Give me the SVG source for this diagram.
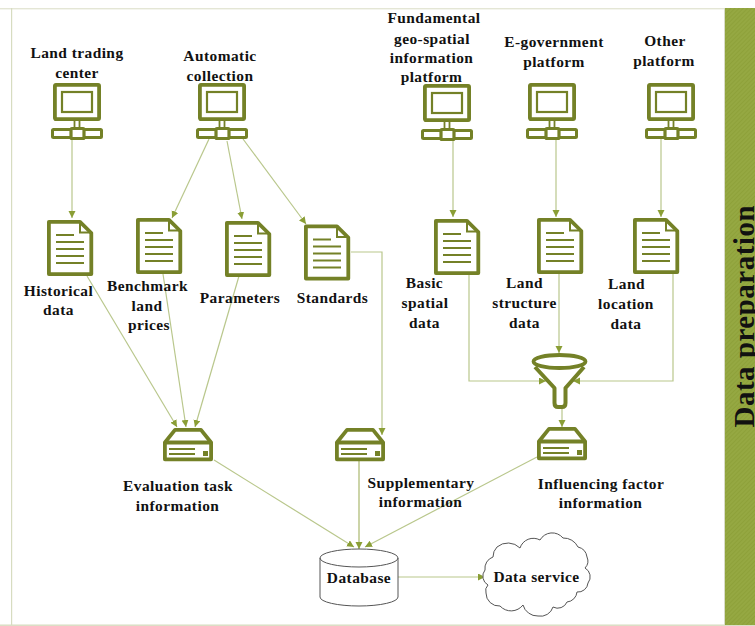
<svg xmlns="http://www.w3.org/2000/svg" width="755" height="626" viewBox="0 0 755 626">
<style>
text{font-family:"Liberation Serif","Times New Roman",serif;font-weight:bold;font-size:15.4px;fill:#111;text-anchor:middle;letter-spacing:.45px}
.ic{fill:none;stroke:#748127;stroke-width:3.8;stroke-linejoin:round}
.thin{fill:none;stroke:#748127;stroke-width:1.8}
.c{fill:none;stroke:#b9c78c;stroke-width:1.2;marker-end:url(#a)}
.o{fill:#fff;stroke:#555;stroke-width:1}
</style>
<defs>
<marker id="a" markerUnits="userSpaceOnUse" markerWidth="8" markerHeight="8" refX="7" refY="3.5" orient="auto"><path d="M0 0L7 3.500L0 7Z" fill="#8a9e35"/></marker>
<pattern id="h" width="3" height="3" patternUnits="userSpaceOnUse" patternTransform="rotate(45)"><rect width="3" height="3" fill="#95a842"/><rect width="1" height="3" fill="#8ea13a"/></pattern>
<g id="pc"><rect x="1.900" y="1.900" width="44.200" height="34.200" rx="1" class="ic"/><rect x="9" y="9" width="30" height="20" class="thin" style="stroke-width:2.200"/><path d="M21.500 37V45M26.500 37V45" class="thin"/><rect x="-.5" y="46.500" width="49" height="8" rx="1" class="ic" style="stroke-width:3"/><rect x="18" y="45.500" width="13" height="10" rx="1" class="ic" style="fill:#fff;stroke-width:3.200"/></g>
<g id="doc"><path d="M1.900 1.900H33L44.300 13V54.100H1.900Z" class="ic"/><path d="M33 1.900V12.500H44.300" class="thin" style="stroke-width:2"/><path d="M9 15H27M9 22H37M9 29H37M9 36H37M9 43H37" class="thin"/></g>
<g id="srv"><path d="M1.900 14.500L12 1.900H38L48.100 14.500V31.300H1.900Z" class="ic"/><path d="M1.900 14.500H48.100" class="ic"/><path d="M6 21H32M6 26H32" class="thin"/><rect x="40" y="23" width="5" height="5" fill="#748127"/></g>
</defs>
<rect x="0" y="8" width="755" height="1.400" fill="#e4e6d5"/>
<rect x="0" y="624.500" width="755" height="1.400" fill="#d7dcc0"/>
<rect x="11" y="8" width="1.200" height="617" fill="#d7dcc0"/>
<rect x="725" y="8" width="30" height="617" fill="url(#h)"/>
<rect x="724" y="8" width="1" height="617" fill="#d9dcc8"/>
<text transform="translate(754 427.500) rotate(-90)" style="font-size:28.800px;letter-spacing:.6px;text-anchor:start">Data preparation</text>

<g id="connectors">
<path class="c" d="M72 139V218"/>
<path class="c" d="M209 139L172 218"/>
<path class="c" d="M227 141L242 219"/>
<path class="c" d="M243 139L306 224"/>
<path class="c" d="M453 140V217"/>
<path class="c" d="M556 139V217"/>
<path class="c" d="M661 139V217"/>
<path class="c" d="M87 276L177 427"/>
<path class="c" d="M163 274L186 427"/>
<path class="c" d="M239 276L195 427"/>
<path class="c" d="M351 252H382V435"/>
<path class="c" d="M469 274V381H546"/>
<path class="c" d="M673 274V381H573"/>
<path class="c" d="M559 274V353"/>
<path class="c" d="M562 408V427"/>
<path class="c" d="M214 460L354 547"/>
<path class="c" d="M359 461V549" style="stroke-width:2;stroke:#ccd4a8"/>
<path class="c" d="M537 457L365 547"/>
<path class="c" d="M397 577H485"/>
</g>

<g id="n1"><use href="#pc" x="53" y="83"/><text x="77" y="58">Land trading</text><text x="77" y="78">center</text></g>
<g id="n2"><use href="#pc" x="198" y="83"/><text x="220" y="61">Automatic</text><text x="220" y="81">collection</text></g>
<g id="n3"><use href="#pc" x="423" y="84"/><text x="434" y="23">Fundamental</text><text x="432" y="44">geo-spatial</text><text x="431.500" y="63">information</text><text x="431.500" y="82">platform</text></g>
<g id="n4"><use href="#pc" x="528" y="83"/><text x="554" y="47">E-government</text><text x="554" y="67">platform</text></g>
<g id="n5"><use href="#pc" x="647" y="83"/><text x="665" y="46">Other</text><text x="664" y="66">platform</text></g>

<g id="n6"><use href="#doc" x="47" y="220"/><text x="58.500" y="296">Historical</text><text x="58.500" y="315">data</text></g>
<g id="n7"><use href="#doc" x="136" y="218"/><text x="147.500" y="290.500">Benchmark</text><text x="147" y="310.500">land</text><text x="149" y="330">prices</text></g>
<g id="n8"><use href="#doc" x="225" y="221"/><text x="240" y="303">Parameters</text></g>
<g id="n9"><use href="#doc" x="304" y="224.500"/><text x="332.500" y="303">Standards</text></g>
<g id="n10"><use href="#doc" x="434" y="219"/><text x="424.500" y="288">Basic</text><text x="425" y="308">spatial</text><text x="424.500" y="328">data</text></g>
<g id="n11"><use href="#doc" x="537" y="218"/><text x="524.500" y="288">Land</text><text x="524.500" y="308">structure</text><text x="524.500" y="328">data</text></g>
<g id="n12"><use href="#doc" x="633" y="218"/><text x="626.500" y="289">Land</text><text x="626" y="309">location</text><text x="626" y="329">data</text></g>

<g id="n13"><ellipse cx="559.500" cy="361.500" rx="26" ry="6.500" class="ic"/><path d="M535 367L554.500 388V403Q554.500 407 558 407H562Q565.500 407 565.500 403V388L584 367" class="ic" style="stroke-width:4"/></g>

<g id="n14"><use href="#srv" x="163" y="428"/><text x="178" y="491">Evaluation task</text><text x="177.500" y="511">information</text></g>
<g id="n15"><use href="#srv" x="335" y="428"/><text x="421" y="488">Supplementary</text><text x="420.500" y="507">information</text></g>
<g id="n16"><use href="#srv" x="537" y="427"/><text x="601" y="489">Influencing factor</text><text x="600.500" y="508">information</text></g>

<g id="n17"><path class="o" d="M320 558A39 9 0 0 1 398 558V597A39 9 0 0 1 320 597Z"/><path class="o" style="fill:none" d="M320 558A39 9 0 0 0 398 558"/><text x="359" y="583">Database</text></g>
<g id="n18"><path class="o" d="M485 570A12 12 0 0 1 493 557A14 14 0 0 1 497 547A17 17 0 0 1 520 548A14 14 0 0 1 540 540A14 14 0 0 1 563 538A16 16 0 0 1 578 547A12 12 0 0 1 587 557A10 10 0 0 1 585 568A10 10 0 0 1 588 583A10 10 0 0 1 577 592A11 11 0 0 1 567 602A10 10 0 0 1 553 607A13 13 0 0 1 538 616A15 15 0 0 1 523 605A15 15 0 0 1 500 606A13 13 0 0 1 486 593A8 8 0 0 1 488 585A10 10 0 0 1 485 570Z"/><text x="536.500" y="582">Data service</text></g>
</svg>
